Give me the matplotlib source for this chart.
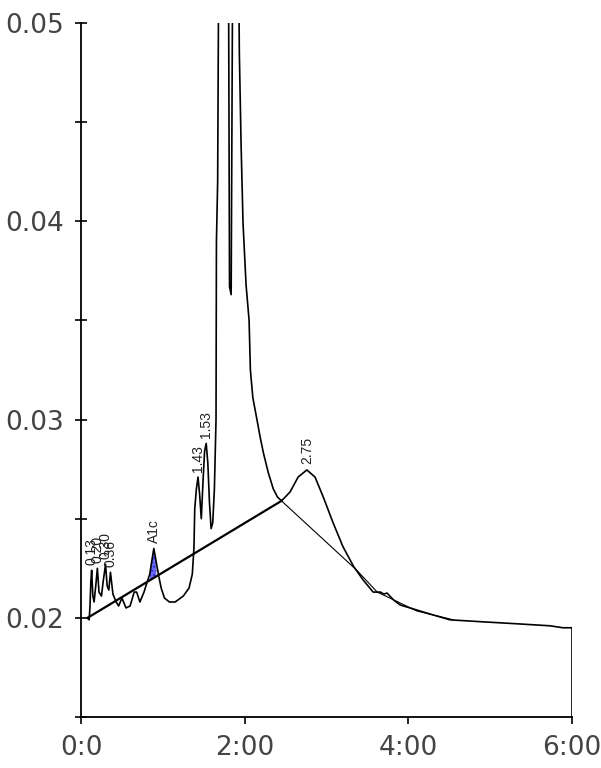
import numpy as np
from matplotlib import pyplot as plt
from matplotlib.ticker import MultipleLocator, FixedLocator

# chromatogram trace (time in minutes, absorbance)
times = [0.08, 0.10, 0.11, 0.12, 0.13, 0.145, 0.16, 0.18, 0.20, 0.22, 0.25, 0.27,
         0.30, 0.32, 0.34, 0.36, 0.39, 0.43, 0.46, 0.50, 0.55, 0.60, 0.65, 0.68,
         0.72, 0.77, 0.80, 0.84, 0.87, 0.89, 0.92, 0.95, 0.98, 1.02, 1.08, 1.15,
         1.25, 1.32, 1.36, 1.38, 1.39, 1.41, 1.43, 1.45, 1.47, 1.49, 1.51, 1.53,
         1.55, 1.57, 1.59, 1.61, 1.63, 1.65, 1.655, 1.67, 1.685, 1.70, 1.76, 1.80,
         1.815, 1.835, 1.85, 1.86, 1.90, 1.93, 1.935, 1.956, 1.98, 2.017, 2.054,
         2.07, 2.10, 2.15, 2.19, 2.23, 2.29, 2.35, 2.40, 2.45, 2.555, 2.653, 2.76,
         2.86, 2.96, 3.08, 3.20, 3.33, 3.45, 3.57, 3.66, 3.70, 3.74, 3.82, 3.90,
         4.10, 4.30, 4.51, 4.91, 5.33, 5.73, 5.89, 5.98, 6.00, 6.00]
absorb = [0.0200, 0.0199, 0.0206, 0.0218, 0.0224, 0.0211, 0.0208, 0.0216, 0.0225,
          0.0213, 0.0211, 0.0218, 0.0227, 0.0216, 0.0214, 0.0223, 0.0212, 0.0208,
          0.0206, 0.0210, 0.0205, 0.0206, 0.0213, 0.0213, 0.0208, 0.0213, 0.0217,
          0.0222, 0.0230, 0.0235, 0.0228, 0.0221, 0.0215, 0.0210, 0.0208, 0.0208,
          0.0211, 0.0215, 0.0222, 0.0235, 0.0255, 0.0265, 0.0271, 0.0262, 0.0250,
          0.0268, 0.0284, 0.0288, 0.0278, 0.0258, 0.0245, 0.0248, 0.0265, 0.0300,
          0.0390, 0.0420, 0.0550, 0.0600, 0.0650, 0.0560, 0.0367, 0.0363, 0.0500,
          0.0580, 0.0600, 0.0510, 0.0485, 0.0439, 0.0399, 0.0368, 0.0350, 0.0325,
          0.0311, 0.0300, 0.0291, 0.0283, 0.0273, 0.0265, 0.0261, 0.0259, 0.02635,
          0.0271, 0.02746, 0.0271, 0.0261, 0.0248, 0.0236, 0.0226, 0.0219, 0.0213,
          0.0213, 0.0212, 0.02125, 0.0209, 0.02065, 0.0204, 0.02015, 0.0199, 0.0198,
          0.0197, 0.0196, 0.0195, 0.0195, 0.0195, 0.0150]

# drawn baselines
base_t = [0.08, 2.45]
base_y = [0.0200, 0.0259]
skim_t = [2.45, 3.37, 3.62, 3.85, 4.10, 4.55]
skim_y = [0.0259, 0.0224, 0.0213, 0.02085, 0.02035, 0.0199]

# peak labels
peak_names = ["0.13", "0.20", "0.30", "0.36", "A1c", "1.43", "1.53", "2.75"]
peak_t = [0.13, 0.20, 0.30, 0.36, 0.89, 1.43, 1.53, 2.76]
peak_y = [0.0224, 0.0225, 0.0227, 0.0223, 0.0235, 0.0271, 0.0288, 0.02746]

# A1c shaded area
a1c_range = (0.83, 0.955)

xtick_pos = [0, 2, 4, 6]
xtick_labels = ["0:0", "2:00", "4:00", "6:00"]

t = np.array(times)
a = np.array(absorb)

fig = plt.figure(figsize=(6.01, 7.68), dpi=100)
ax = fig.add_axes([81 / 601, 51 / 768, 491 / 601, 694 / 768])

ax.plot(t, a, color="black", lw=1.2)
ax.plot(base_t, base_y, color="black", lw=1.6)
ax.plot(skim_t, skim_y, color="black", lw=0.8)

mask = (t >= a1c_range[0]) & (t <= a1c_range[1])
bl = np.interp(t[mask], base_t, base_y)
ax.fill_between(t[mask], bl, a[mask], where=a[mask] >= bl, color="#6b6bf5",
                edgecolor="#2d2dc8", hatch="....", lw=0)

for name, px, py in zip(peak_names, peak_t, peak_y):
    ax.annotate(name, (px, py), xytext=(0, 4), textcoords="offset points",
                rotation=90, ha="center", va="bottom", fontsize=10,
                family="Liberation Sans", color="#222222")

ax.set_xlim(0, 6)
ax.set_ylim(0.015, 0.05)
for side in ["top", "right"]:
    ax.spines[side].set_visible(False)
for side in ["left", "bottom"]:
    ax.spines[side].set_linewidth(1.3)

ax.xaxis.set_major_locator(FixedLocator(xtick_pos))
ax.set_xticklabels(xtick_labels)
ax.yaxis.set_major_locator(MultipleLocator(0.01))
ax.yaxis.set_minor_locator(FixedLocator([0.015, 0.025, 0.035, 0.045]))
ax.yaxis.set_major_formatter(plt.FuncFormatter(lambda v, p: f"{v:.2f}"))

ax.tick_params(axis="y", which="both", direction="inout", length=9, width=1.2,
               labelsize=19, pad=8, labelcolor="#444444")
ax.tick_params(axis="x", direction="out", length=5, width=1.2,
               labelsize=19, pad=8, labelcolor="#444444")
for lab in ax.get_xticklabels() + ax.get_yticklabels():
    lab.set_family("DejaVu Sans")

fig.savefig("out.png", dpi=100)
